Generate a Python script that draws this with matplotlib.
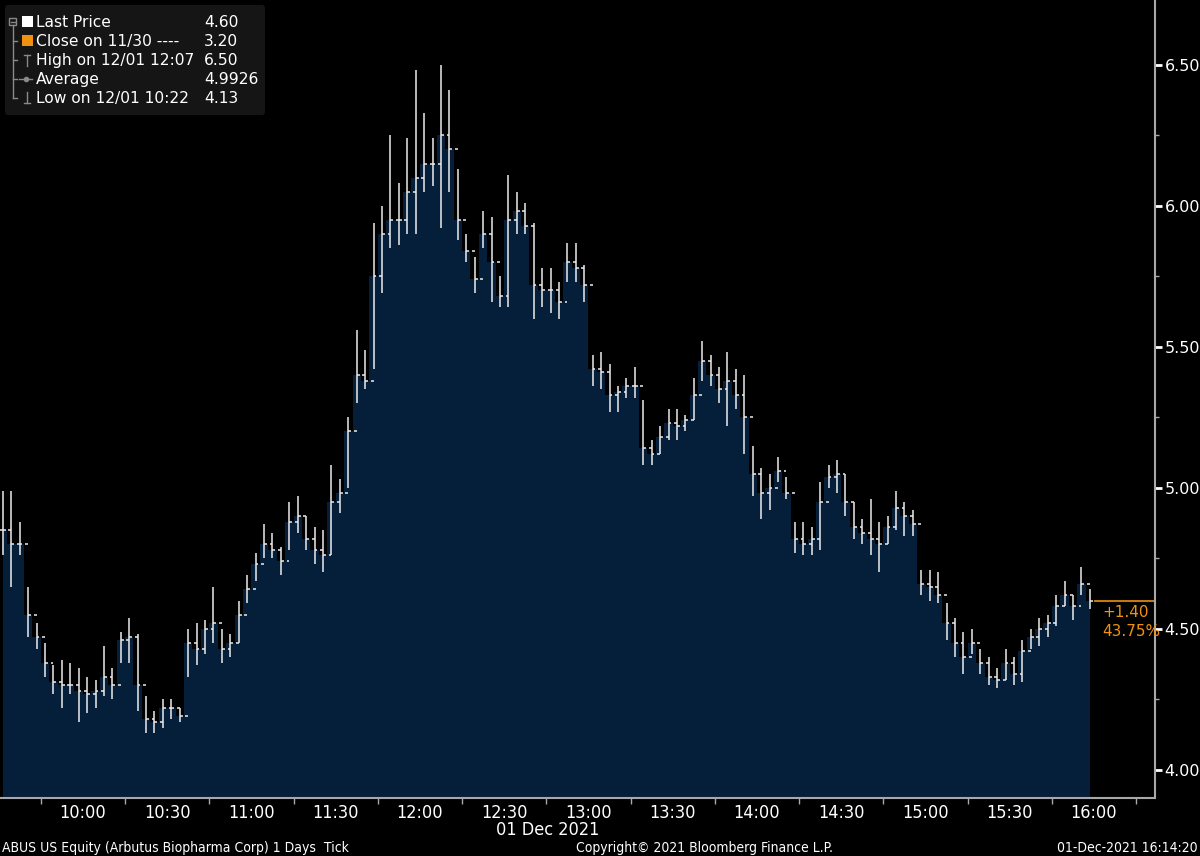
import matplotlib
matplotlib.use("Agg")
import matplotlib.pyplot as plt
import numpy as np
from matplotlib import font_manager as fm
from matplotlib.patches import FancyBboxPatch, Rectangle
from matplotlib.ticker import FixedLocator, FuncFormatter

# 3-minute bars from 09:30
bar_minutes = 3
highs = [
    4.99, 4.99, 4.88, 4.65, 4.52, 4.45, 4.37, 4.39, 4.38, 4.36,
    4.33, 4.32, 4.44, 4.36, 4.49, 4.54, 4.48, 4.26, 4.21, 4.25,
    4.25, 4.22, 4.50, 4.52, 4.53, 4.65, 4.50, 4.48, 4.60, 4.69,
    4.77, 4.87, 4.84, 4.79, 4.95, 4.97, 4.90, 4.86, 4.85, 5.08,
    5.03, 5.25, 5.56, 5.49, 5.94, 6.00, 6.25, 6.08, 6.24, 6.48,
    6.33, 6.24, 6.50, 6.41, 6.13, 5.90, 5.82, 5.98, 5.96, 5.75,
    6.11, 6.05, 6.01, 5.94, 5.78, 5.78, 5.73, 5.87, 5.87, 5.79,
    5.47, 5.48, 5.44, 5.36, 5.39, 5.43, 5.31, 5.17, 5.22, 5.28,
    5.28, 5.26, 5.39, 5.52, 5.47, 5.43, 5.48, 5.42, 5.40, 5.15,
    5.07, 5.05, 5.11, 5.04, 4.88, 4.88, 4.86, 5.02, 5.08, 5.10,
    5.05, 4.95, 4.89, 4.96, 4.88, 4.90, 4.99, 4.95, 4.92, 4.71,
    4.71, 4.70, 4.59, 4.54, 4.49, 4.50, 4.43, 4.40, 4.36, 4.43,
    4.40, 4.46, 4.50, 4.54, 4.55, 4.62, 4.67, 4.62, 4.72, 4.64,
]
lows = [
    4.76, 4.65, 4.76, 4.47, 4.43, 4.33, 4.27, 4.22, 4.27, 4.17,
    4.20, 4.22, 4.26, 4.25, 4.38, 4.38, 4.21, 4.13, 4.13, 4.15,
    4.18, 4.17, 4.33, 4.37, 4.41, 4.45, 4.38, 4.40, 4.45, 4.59,
    4.67, 4.75, 4.75, 4.69, 4.78, 4.84, 4.78, 4.73, 4.70, 4.76,
    4.91, 5.00, 5.30, 5.35, 5.42, 5.69, 5.85, 5.86, 5.90, 5.90,
    6.05, 6.07, 5.92, 6.05, 5.88, 5.80, 5.69, 5.85, 5.66, 5.64,
    5.64, 5.90, 5.90, 5.60, 5.64, 5.62, 5.60, 5.73, 5.73, 5.66,
    5.36, 5.35, 5.27, 5.27, 5.32, 5.32, 5.08, 5.08, 5.12, 5.17,
    5.17, 5.20, 5.24, 5.38, 5.36, 5.30, 5.22, 5.28, 5.12, 4.97,
    4.89, 4.92, 5.02, 4.96, 4.77, 4.76, 4.76, 4.78, 5.00, 4.98,
    4.90, 4.82, 4.80, 4.76, 4.70, 4.80, 4.85, 4.83, 4.83, 4.62,
    4.60, 4.59, 4.46, 4.40, 4.34, 4.41, 4.34, 4.30, 4.29, 4.32,
    4.30, 4.31, 4.43, 4.44, 4.47, 4.51, 4.58, 4.53, 4.62, 4.57,
]
closes = [
    4.85, 4.80, 4.80, 4.55, 4.47, 4.38, 4.31, 4.30, 4.30, 4.28,
    4.27, 4.28, 4.33, 4.30, 4.46, 4.47, 4.30, 4.18, 4.17, 4.22,
    4.22, 4.19, 4.45, 4.43, 4.50, 4.52, 4.43, 4.45, 4.55, 4.64,
    4.73, 4.80, 4.78, 4.74, 4.88, 4.90, 4.82, 4.78, 4.76, 4.95,
    4.98, 5.20, 5.40, 5.38, 5.75, 5.90, 5.95, 5.95, 6.05, 6.10,
    6.15, 6.15, 6.25, 6.20, 5.95, 5.84, 5.74, 5.90, 5.80, 5.68,
    5.95, 5.98, 5.93, 5.72, 5.70, 5.70, 5.66, 5.80, 5.78, 5.72,
    5.42, 5.41, 5.33, 5.34, 5.36, 5.36, 5.14, 5.12, 5.18, 5.23,
    5.22, 5.24, 5.33, 5.45, 5.40, 5.35, 5.38, 5.33, 5.25, 5.05,
    4.98, 5.00, 5.06, 4.98, 4.82, 4.80, 4.82, 4.95, 5.04, 5.05,
    4.95, 4.86, 4.84, 4.82, 4.80, 4.86, 4.93, 4.90, 4.87, 4.66,
    4.65, 4.62, 4.52, 4.45, 4.40, 4.45, 4.38, 4.33, 4.32, 4.38,
    4.34, 4.42, 4.47, 4.50, 4.52, 4.58, 4.62, 4.58, 4.66, 4.60,
]
open_print = 5.37
prev_close = 3.20
last_price = 4.60
day_high = 6.50
day_low = 4.13
average = 4.9926

time_labels = ["10:00", "10:30", "11:00", "11:30", "12:00", "12:30", "13:00",
               "13:30", "14:00", "14:30", "15:00", "15:30", "16:00"]
price_ticks = [4.00, 4.50, 5.00, 5.50, 6.00, 6.50]

legend_rows = [
    ("Last Price", f"{last_price:.2f}"),
    ("Close on 11/30 ----", f"{prev_close:.2f}"),
    ("High on 12/01 12:07", f"{day_high:.2f}"),
    ("Average", f"{average:.4f}"),
    ("Low on 12/01 10:22", f"{day_low:.2f}"),
]

BG = "#000000"
FILL = "#051e3a"
BAR = "#ececec"
ORANGE = "#f0920f"
AXIS = "#a8a8a8"


def find_narrow_font():
    # look for a condensed sans face for the Bloomberg-style axis/footer text
    wanted = ["Liberation Sans Narrow", "DejaVu Sans", "Roboto Condensed",
              "Open Sans Condensed", "Noto Sans"]
    cands = []
    for f in fm.fontManager.ttflist:
        stretch = str(f.stretch).lower()
        narrow = "narrow" in f.name.lower() or "condensed" in stretch \
            or "condensed" in f.name.lower() or "narrow" in f.fname.lower() \
            or "condensed" in f.fname.lower()
        if not narrow or f.style != "normal":
            continue
        if str(f.weight) not in ("400", "normal", "regular"):
            continue
        if "semi" in stretch or "semi" in f.fname.lower():
            continue
        rank = wanted.index(f.name) if f.name in wanted else len(wanted)
        cands.append((rank, f.fname))
    if cands:
        cands.sort()
        return cands[0][1]
    return None


narrow_path = find_narrow_font()


def narrow_font(size):
    if narrow_path:
        return fm.FontProperties(fname=narrow_path, size=size)
    return fm.FontProperties(family="DejaVu Sans", size=size * 0.82)


y_lo, y_hi = 3.90, 6.73
x_lo, x_hi = 0.5, 411.7

fig = plt.figure(figsize=(12, 8.56), dpi=100, facecolor=BG)
ax = fig.add_axes([0, 58 / 856, 1155 / 1200, 798 / 856], facecolor=BG)

n = len(closes)
x = np.arange(n) * bar_minutes + bar_minutes / 2
opens = [closes[0]] + closes[:-1]

ax.fill_between(x, closes, y_lo, step="mid", color=FILL, lw=0, zorder=1)
ax.vlines(x[0] - 1.2, y_lo, open_print, color=BAR, lw=1.2, zorder=3)
ax.vlines(x, lows, highs, color=BAR, lw=1.1, zorder=3)
ax.hlines(opens, x - 1.0, x, color=BAR, lw=1.1, zorder=3)
ax.hlines(closes, x, x + 1.0, color=BAR, lw=1.1, zorder=3)

# change vs previous close
end_x = x[-1] + bar_minutes / 2
ax.hlines(last_price, end_x, x_hi, color="#c07a10", lw=1.5, zorder=2)
chg = last_price - prev_close
ax.text(end_x + 2.8, last_price - 0.015, f"+{chg:.2f}", color=ORANGE, fontsize=11,
        va="top", ha="left")
ax.text(end_x + 2.8, last_price - 0.083, f"{chg / prev_close * 100:.2f}%", color=ORANGE,
        fontsize=11, va="top", ha="left")

ax.set_xlim(x_lo, x_hi)
ax.set_ylim(y_lo, y_hi)

for side in ["left", "top"]:
    ax.spines[side].set_visible(False)
for side in ["right", "bottom"]:
    ax.spines[side].set_color(AXIS)
    ax.spines[side].set_linewidth(1.5)

label_pos = [30 * (k + 1) for k in range(len(time_labels))]
ax.xaxis.set_major_locator(FixedLocator(label_pos))
ax.set_xticklabels(time_labels)
ax.xaxis.set_minor_locator(FixedLocator([p - 15 for p in label_pos] + [label_pos[-1] + 15]))
ax.tick_params(axis="x", which="major", length=0, pad=4, labelcolor="white")
ax.tick_params(axis="x", which="minor", length=4, width=1, color=AXIS)
for lbl in ax.get_xticklabels():
    lbl.set_fontproperties(narrow_font(13))

ax.yaxis.tick_right()
ax.yaxis.set_major_locator(FixedLocator(price_ticks))
ax.yaxis.set_minor_locator(FixedLocator([p + 0.25 for p in price_ticks]))
ax.yaxis.set_major_formatter(FuncFormatter(lambda v, _: f"{v:.2f}"))
ax.tick_params(axis="y", which="major", length=5, width=2, color="white", pad=2,
               labelcolor="white", labelsize=11.5)
ax.tick_params(axis="y", which="minor", length=3, width=1, color=AXIS)

# text outside the axes
fig.text(548 / 1200, 1 - 830 / 856, "01 Dec 2021", color="white",
         fontproperties=narrow_font(13), ha="center", va="center")
fig.text(2 / 1200, 1 - 848 / 856, "ABUS US Equity (Arbutus Biopharma Corp) 1 Days  Tick",
         color="white", fontproperties=narrow_font(10), ha="left", va="center")
fig.text(704 / 1200, 1 - 848 / 856, "Copyright\u00a9 2021 Bloomberg Finance L.P.",
         color="white", fontproperties=narrow_font(10), ha="center", va="center")
fig.text(1198 / 1200, 1 - 848 / 856, "01-Dec-2021 16:14:20",
         color="white", fontproperties=narrow_font(10), ha="right", va="center")

# legend box in pixel coordinates
lg = fig.add_axes([0, 0, 1, 1], facecolor="none")
lg.set_xlim(0, 1200)
lg.set_ylim(856, 0)
lg.axis("off")
lg.add_patch(FancyBboxPatch((5, 5), 260, 110, boxstyle="round,pad=0,rounding_size=3",
                            fc="#151515", ec="none"))
row_y = [22 + 19 * k for k in range(len(legend_rows))]
tree = "#8a8a8a"
lg.add_patch(Rectangle((9, 18), 7, 7, fc="none", ec=tree, lw=1))
lg.plot([10.5, 14.5], [21.5, 21.5], color=tree, lw=1)
lg.plot([12.5, 12.5], [25, row_y[-1]], color=tree, lw=1)
for yy in row_y[1:]:
    lg.plot([12.5, 17], [yy, yy], color=tree, lw=1)
lg.add_patch(Rectangle((22, row_y[0] - 6), 11, 11, fc="white", ec="none"))
lg.add_patch(Rectangle((22, row_y[1] - 6), 11, 11, fc=ORANGE, ec="none"))
lg.plot([24, 30], [row_y[2] - 5, row_y[2] - 5], color=tree, lw=1)
lg.plot([27, 27], [row_y[2] - 5, row_y[2] + 6], color=tree, lw=1)
lg.plot([19, 32], [row_y[3], row_y[3]], color=tree, lw=1)
lg.plot([25.5], [row_y[3]], marker="o", ms=3, color=tree)
lg.plot([27, 27], [row_y[4] - 6, row_y[4] + 5], color=tree, lw=1)
lg.plot([24, 30], [row_y[4] + 5, row_y[4] + 5], color=tree, lw=1)
for (name, val), yy in zip(legend_rows, row_y):
    lg.text(36, yy, name, color="white", fontsize=11.2, va="center", ha="left")
    lg.text(204, yy, val, color="white", fontsize=11.2, va="center", ha="left")

fig.savefig("out.png", dpi=100, facecolor=BG)
